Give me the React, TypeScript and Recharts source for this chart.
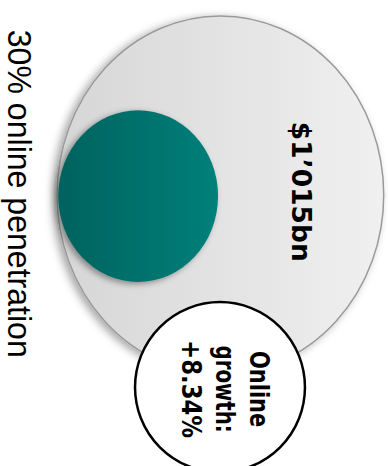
import React from 'react';
import { ScatterChart, Scatter, XAxis, YAxis, ReferenceArea, ReferenceDot } from 'recharts';

// bubbles, in chart units (x 0..100, y 0..120, y grows downward)
const bubbleNames = ['market', 'online', 'growth'];
const bubbleCx = [56.8, 35.6, 56.7];
const bubbleCy = [50.2, 50.5, 99.7];
const bubbleRx = [42.1, 20.6, 21.9];
const bubbleRy = [46.1, 22.1, 21.9];

const marketLabel = '$1’015bn';
const marketLabelPos = [75.3, 49.4];

const growthLines = ['Online', 'growth:', '+8.34%'];
const growthLineX = [64.4, 55.7, 46.9];
const growthLineY = 100.2;

const caption = '30% online penetration';
const captionPos = [2.1, 49.9];

const fills = ['url(#gradMarket)', 'url(#gradOnline)', '#ffffff'];
const strokes = ['#9a9a9a', 'none', '#000000'];
const strokeWidths = [1.5, 0, 2.5];
const filters = ['url(#shadowMarket)', 'url(#shadowOnline)', undefined];

const W = 388;
const H = 466;

const bubbleShape = (i: number) => (props: any) => {
  const w = Math.abs(props.width);
  const h = Math.abs(props.height);
  const x = Math.min(props.x, props.x + props.width);
  const y = Math.min(props.y, props.y + props.height);
  return (
    <ellipse
      cx={x + w / 2}
      cy={y + h / 2}
      rx={w / 2}
      ry={h / 2}
      fill={fills[i]}
      stroke={strokes[i]}
      strokeWidth={strokeWidths[i]}
      filter={filters[i]}
    />
  );
};

const rotatedText = (text: string, size: number, len: number, weight: string, family: string) => (props: any) => {
  const { cx, cy } = props;
  return (
    <text
      x={cx}
      y={cy}
      transform={`rotate(90 ${cx} ${cy})`}
      textAnchor="middle"
      fontSize={size}
      fontWeight={weight}
      fontFamily={family}
      fill="#000"
      textLength={len}
      lengthAdjust="spacingAndGlyphs"
    >
      {text}
    </text>
  );
};

export default function App() {
  return (
    <div style={{ position: 'fixed', left: 0, top: 0, width: W, height: H, background: '#fff' }}>
      <ScatterChart width={W} height={H} margin={{ top: 0, right: 0, bottom: 0, left: 0 }}>
        <defs>
          <linearGradient id="gradMarket" x1="0" y1="0" x2="1" y2="0">
            <stop offset="0%" stopColor="#d6d6d6" />
            <stop offset="100%" stopColor="#f0f0f0" />
          </linearGradient>
          <linearGradient id="gradOnline" x1="0" y1="0" x2="1" y2="0">
            <stop offset="0%" stopColor="#00625e" />
            <stop offset="100%" stopColor="#00807a" />
          </linearGradient>
          <filter id="shadowMarket" x="-20%" y="-20%" width="140%" height="140%">
            <feDropShadow dx="-4" dy="2" stdDeviation="4" floodColor="#000" floodOpacity="0.35" />
          </filter>
          <filter id="shadowOnline" x="-20%" y="-20%" width="140%" height="140%">
            <feDropShadow dx="-3" dy="2" stdDeviation="3" floodColor="#000" floodOpacity="0.4" />
          </filter>
        </defs>
        <XAxis type="number" dataKey="x" domain={[0, 100]} hide allowDataOverflow />
        <YAxis type="number" dataKey="y" domain={[0, 120]} hide reversed allowDataOverflow />
        {bubbleNames.map((name, i) => (
          <ReferenceArea
            key={name}
            x1={bubbleCx[i] - bubbleRx[i]}
            x2={bubbleCx[i] + bubbleRx[i]}
            y1={bubbleCy[i] - bubbleRy[i]}
            y2={bubbleCy[i] + bubbleRy[i]}
            ifOverflow="visible"
            shape={bubbleShape(i)}
          />
        ))}
        <ReferenceDot
          x={marketLabelPos[0]}
          y={marketLabelPos[1]}
          ifOverflow="visible"
          shape={rotatedText(marketLabel, 27, 140, 'bold', 'DejaVu Sans')}
        />
        {growthLines.map((line, i) => (
          <ReferenceDot
            key={line}
            x={growthLineX[i]}
            y={growthLineY}
            ifOverflow="visible"
            shape={rotatedText(line, 26, [76, 87, 98][i], 'bold', 'DejaVu Sans')}
          />
        ))}
        <ReferenceDot
          x={captionPos[0]}
          y={captionPos[1]}
          ifOverflow="visible"
          shape={rotatedText(caption, 34, 328, 'normal', "'Liberation Sans Narrow', 'Liberation Sans', sans-serif")}
        />
        <Scatter
          data={bubbleNames.map((n, i) => ({ x: bubbleCx[i], y: bubbleCy[i] }))}
          isAnimationActive={false}
          shape={() => <g />}
        />
      </ScatterChart>
    </div>
  );
}
